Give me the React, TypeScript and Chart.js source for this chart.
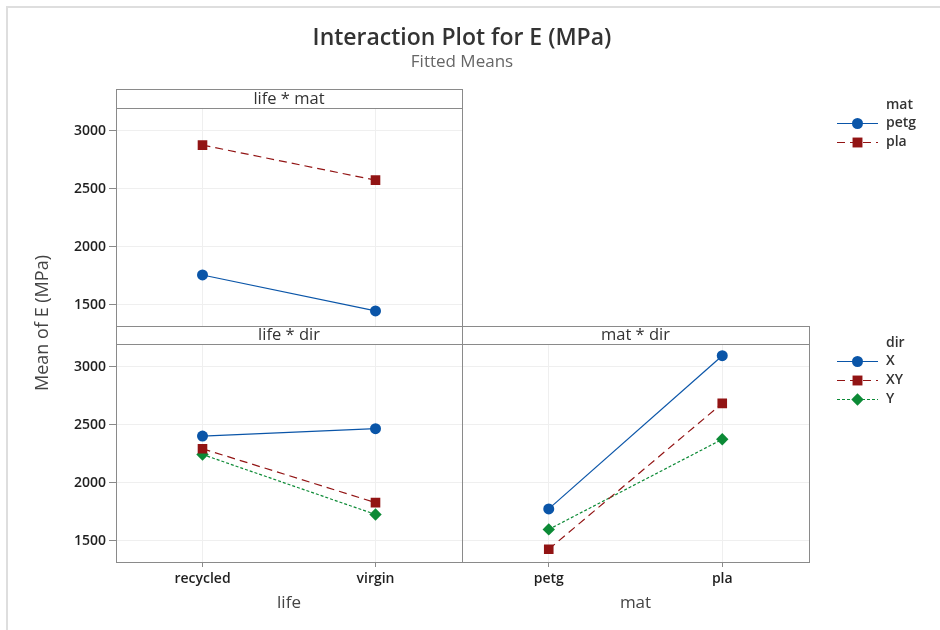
import React, { useEffect, useRef } from "react";
import { Chart, registerables } from "chart.js";

Chart.register(...registerables);

// ---- data ----
const lifeLevels = ["recycled", "virgin"];
const matLevels = ["petg", "pla"];
const matLegend = ["petg", "pla"];
const dirLegend = ["X", "XY", "Y"];
const yTicks = [1500, 2000, 2500, 3000];

const lifeMatPetg = [1755, 1445];
const lifeMatPla = [2875, 2573];
const lifeDirX = [2401, 2465];
const lifeDirXY = [2292, 1827];
const lifeDirY = [2242, 1725];
const matDirX = [1773, 3094];
const matDirXY = [1425, 2683];
const matDirY = [1596, 2373];

const Y_MIN = 1315;
const Y_MAX = 3195;

// ---- styles ----
const BLUE = "#0a55a8";
const RED = "#921414";
const GREEN = "#0c8a36";
const GRID = "#efefef";
const FRAME = "#8a8a8a";
const TICK = "#1f1f1f";
const FONT = '"Open Sans", "Noto Sans", sans-serif';

const W = 940;
const H = 630;
const Y_W = 60;
const X_H = 40;

type Area = { l: number; t: number; r: number; b: number };
const areaTL: Area = { l: 116, t: 108, r: 462, b: 326 };
const areaBL: Area = { l: 116, t: 344, r: 462, b: 562 };
const areaBR: Area = { l: 462, t: 344, r: 809, b: 562 };

const S_BLUE = { color: BLUE, dash: [] as number[], style: "circle", r: 5.5, bw: 1.2 };
const S_RED = { color: RED, dash: [8, 5], style: "rect", r: 6.8, bw: 1.2 };
const S_GREEN = { color: GREEN, dash: [3, 2], style: "rectRot", r: 6.2, bw: 1.2 };

function ds(label: string, data: number[], s: any) {
  return {
    label,
    data,
    borderColor: s.color,
    backgroundColor: s.color,
    borderWidth: s.bw,
    borderDash: s.dash,
    pointStyle: s.style,
    pointRadius: s.r,
    pointBorderWidth: 0,
    pointBackgroundColor: s.color,
    pointBorderColor: s.color,
    tension: 0,
    fill: false,
  };
}

function panelConfig(labels: string[], datasets: any[], area: Area, yLabels: boolean, xLabels: boolean, plugins: any[] = []) {
  return {
    type: "line" as const,
    data: { labels, datasets },
    options: {
      responsive: false,
      maintainAspectRatio: false,
      animation: false,
      devicePixelRatio: 1,
      events: [],
      layout: {
        padding: {
          left: area.l - (yLabels ? Y_W : 0),
          top: area.t,
          right: W - area.r,
          bottom: H - area.b - (xLabels ? X_H : 0),
        },
      },
      plugins: {
        legend: { display: false },
        tooltip: { enabled: false },
        title: { display: false },
      },
      scales: {
        x: {
          type: "category",
          offset: true,
          border: { display: false },
          grid: { color: GRID, drawTicks: xLabels, tickLength: 5, tickColor: FRAME, lineWidth: 1 },
          ticks: {
            display: xLabels,
            padding: 4,
            color: TICK,
            font: { family: FONT, size: 14, weight: "600" },
            maxRotation: 0,
            autoSkip: false,
          },
          afterFit: (s: any) => {
            s.height = xLabels ? X_H : 0;
          },
        },
        y: {
          type: "linear",
          min: Y_MIN,
          max: Y_MAX,
          border: { display: false },
          grid: { color: GRID, drawTicks: yLabels, tickLength: 7, tickColor: FRAME, lineWidth: 1 },
          ticks: {
            display: yLabels,
            padding: 3,
            color: TICK,
            font: { family: FONT, size: 14, weight: "600" },
            callback: (v: any) => String(v),
          },
          afterBuildTicks: (s: any) => {
            s.ticks = yTicks.map((v) => ({ value: v }));
          },
          afterFit: (s: any) => {
            s.width = yLabels ? Y_W : 0;
          },
        },
      },
    },
    plugins,
  };
}

function drawMarker(ctx: CanvasRenderingContext2D, x: number, y: number, style: string, r: number, color: string) {
  ctx.save();
  ctx.fillStyle = color;
  ctx.beginPath();
  if (style === "circle") {
    ctx.arc(x, y, r, 0, Math.PI * 2);
  } else if (style === "rect") {
    const h = r * Math.SQRT1_2;
    ctx.rect(x - h, y - h, 2 * h, 2 * h);
  } else {
    ctx.moveTo(x, y - r);
    ctx.lineTo(x + r, y);
    ctx.lineTo(x, y + r);
    ctx.lineTo(x - r, y);
    ctx.closePath();
  }
  ctx.fill();
  ctx.restore();
}

function drawLegend(ctx: CanvasRenderingContext2D, title: string, items: string[], styles: any[], yTitle: number, ys: number[]) {
  ctx.save();
  ctx.textAlign = "left";
  ctx.textBaseline = "middle";
  ctx.fillStyle = "#333";
  ctx.font = `600 14px ${FONT}`;
  ctx.fillText(title, 886, yTitle);
  items.forEach((it, i) => {
    const s = styles[i];
    const y = ys[i];
    ctx.save();
    ctx.strokeStyle = s.color;
    ctx.lineWidth = 1.2;
    ctx.setLineDash(s.dash);
    ctx.beginPath();
    ctx.moveTo(837, y + 0.5);
    ctx.lineTo(878, y + 0.5);
    ctx.stroke();
    ctx.restore();
    drawMarker(ctx, 857.5, y + 0.5, s.style, s.style === "rect" ? 7 : s.r, s.color);
    ctx.fillStyle = "#333";
    ctx.fillText(it, 886, y);
  });
  ctx.restore();
}

const decorations = {
  id: "decorations",
  afterDraw(chart: any) {
    const ctx: CanvasRenderingContext2D = chart.ctx;
    ctx.save();
    // outer frame
    ctx.fillStyle = "#dedede";
    ctx.fillRect(6, 6, W - 6, 2);
    ctx.fillRect(6, 6, 2, H - 6);

    // titles
    ctx.textAlign = "center";
    ctx.textBaseline = "middle";
    ctx.fillStyle = "#333";
    ctx.font = `600 23px ${FONT}`;
    ctx.fillText("Interaction Plot for E (MPa)", 462, 38);
    ctx.fillStyle = "#666";
    ctx.font = `400 17px ${FONT}`;
    ctx.fillText("Fitted Means", 462, 62);

    // y-axis title
    ctx.save();
    ctx.translate(43, 323);
    ctx.rotate(-Math.PI / 2);
    ctx.fillStyle = "#444";
    ctx.font = `400 18px ${FONT}`;
    ctx.fillText("Mean of E (MPa)", 0, 0);
    ctx.restore();

    // x-axis titles
    ctx.fillStyle = "#444";
    ctx.font = `400 17px ${FONT}`;
    ctx.fillText("life", (areaBL.l + areaBL.r) / 2, 603);
    ctx.fillText("mat", (areaBR.l + areaBR.r) / 2, 603);

    // panel frames & headers
    ctx.strokeStyle = FRAME;
    ctx.lineWidth = 1;
    const panels: [Area, string, number][] = [
      [areaTL, "life * mat", 89],
      [areaBL, "life * dir", 326],
      [areaBR, "mat * dir", 326],
    ];
    panels.forEach(([a, label, top]) => {
      ctx.strokeRect(a.l + 0.5, top + 0.5, a.r - a.l, a.t - top);
      ctx.strokeRect(a.l + 0.5, a.t + 0.5, a.r - a.l, a.b - a.t);
      ctx.fillStyle = "#333";
      ctx.font = `400 16.5px ${FONT}`;
      ctx.fillText(label, (a.l + a.r) / 2, (top + a.t) / 2 + 0.5);
    });

    // legends
    drawLegend(ctx, "mat", matLegend, [S_BLUE, S_RED], 105, [123, 142]);
    drawLegend(ctx, "dir", dirLegend, [S_BLUE, S_RED, S_GREEN], 343, [361, 380, 399]);
    ctx.restore();
  },
};

export default function App() {
  const r1 = useRef<HTMLCanvasElement>(null);
  const r2 = useRef<HTMLCanvasElement>(null);
  const r3 = useRef<HTMLCanvasElement>(null);

  useEffect(() => {
    const c1 = new Chart(
      r1.current as HTMLCanvasElement,
      panelConfig(
        lifeLevels,
        [ds("petg", lifeMatPetg, S_BLUE), ds("pla", lifeMatPla, S_RED)],
        areaTL,
        true,
        false
      ) as any
    );
    const c2 = new Chart(
      r2.current as HTMLCanvasElement,
      panelConfig(
        lifeLevels,
        [ds("X", lifeDirX, S_BLUE), ds("XY", lifeDirXY, S_RED), ds("Y", lifeDirY, S_GREEN)],
        areaBL,
        true,
        true
      ) as any
    );
    const c3 = new Chart(
      r3.current as HTMLCanvasElement,
      panelConfig(
        matLevels,
        [ds("X", matDirX, S_BLUE), ds("XY", matDirXY, S_RED), ds("Y", matDirY, S_GREEN)],
        areaBR,
        false,
        true,
        [decorations]
      ) as any
    );
    return () => {
      c1.destroy();
      c2.destroy();
      c3.destroy();
    };
  }, []);

  const cs: React.CSSProperties = { position: "absolute", left: 0, top: 0, width: W, height: H };
  return (
    <div style={{ position: "absolute", left: 0, top: 0, width: W, height: H, background: "#fff" }}>
      <canvas ref={r1} width={W} height={H} style={cs} />
      <canvas ref={r2} width={W} height={H} style={cs} />
      <canvas ref={r3} width={W} height={H} style={cs} />
    </div>
  );
}
